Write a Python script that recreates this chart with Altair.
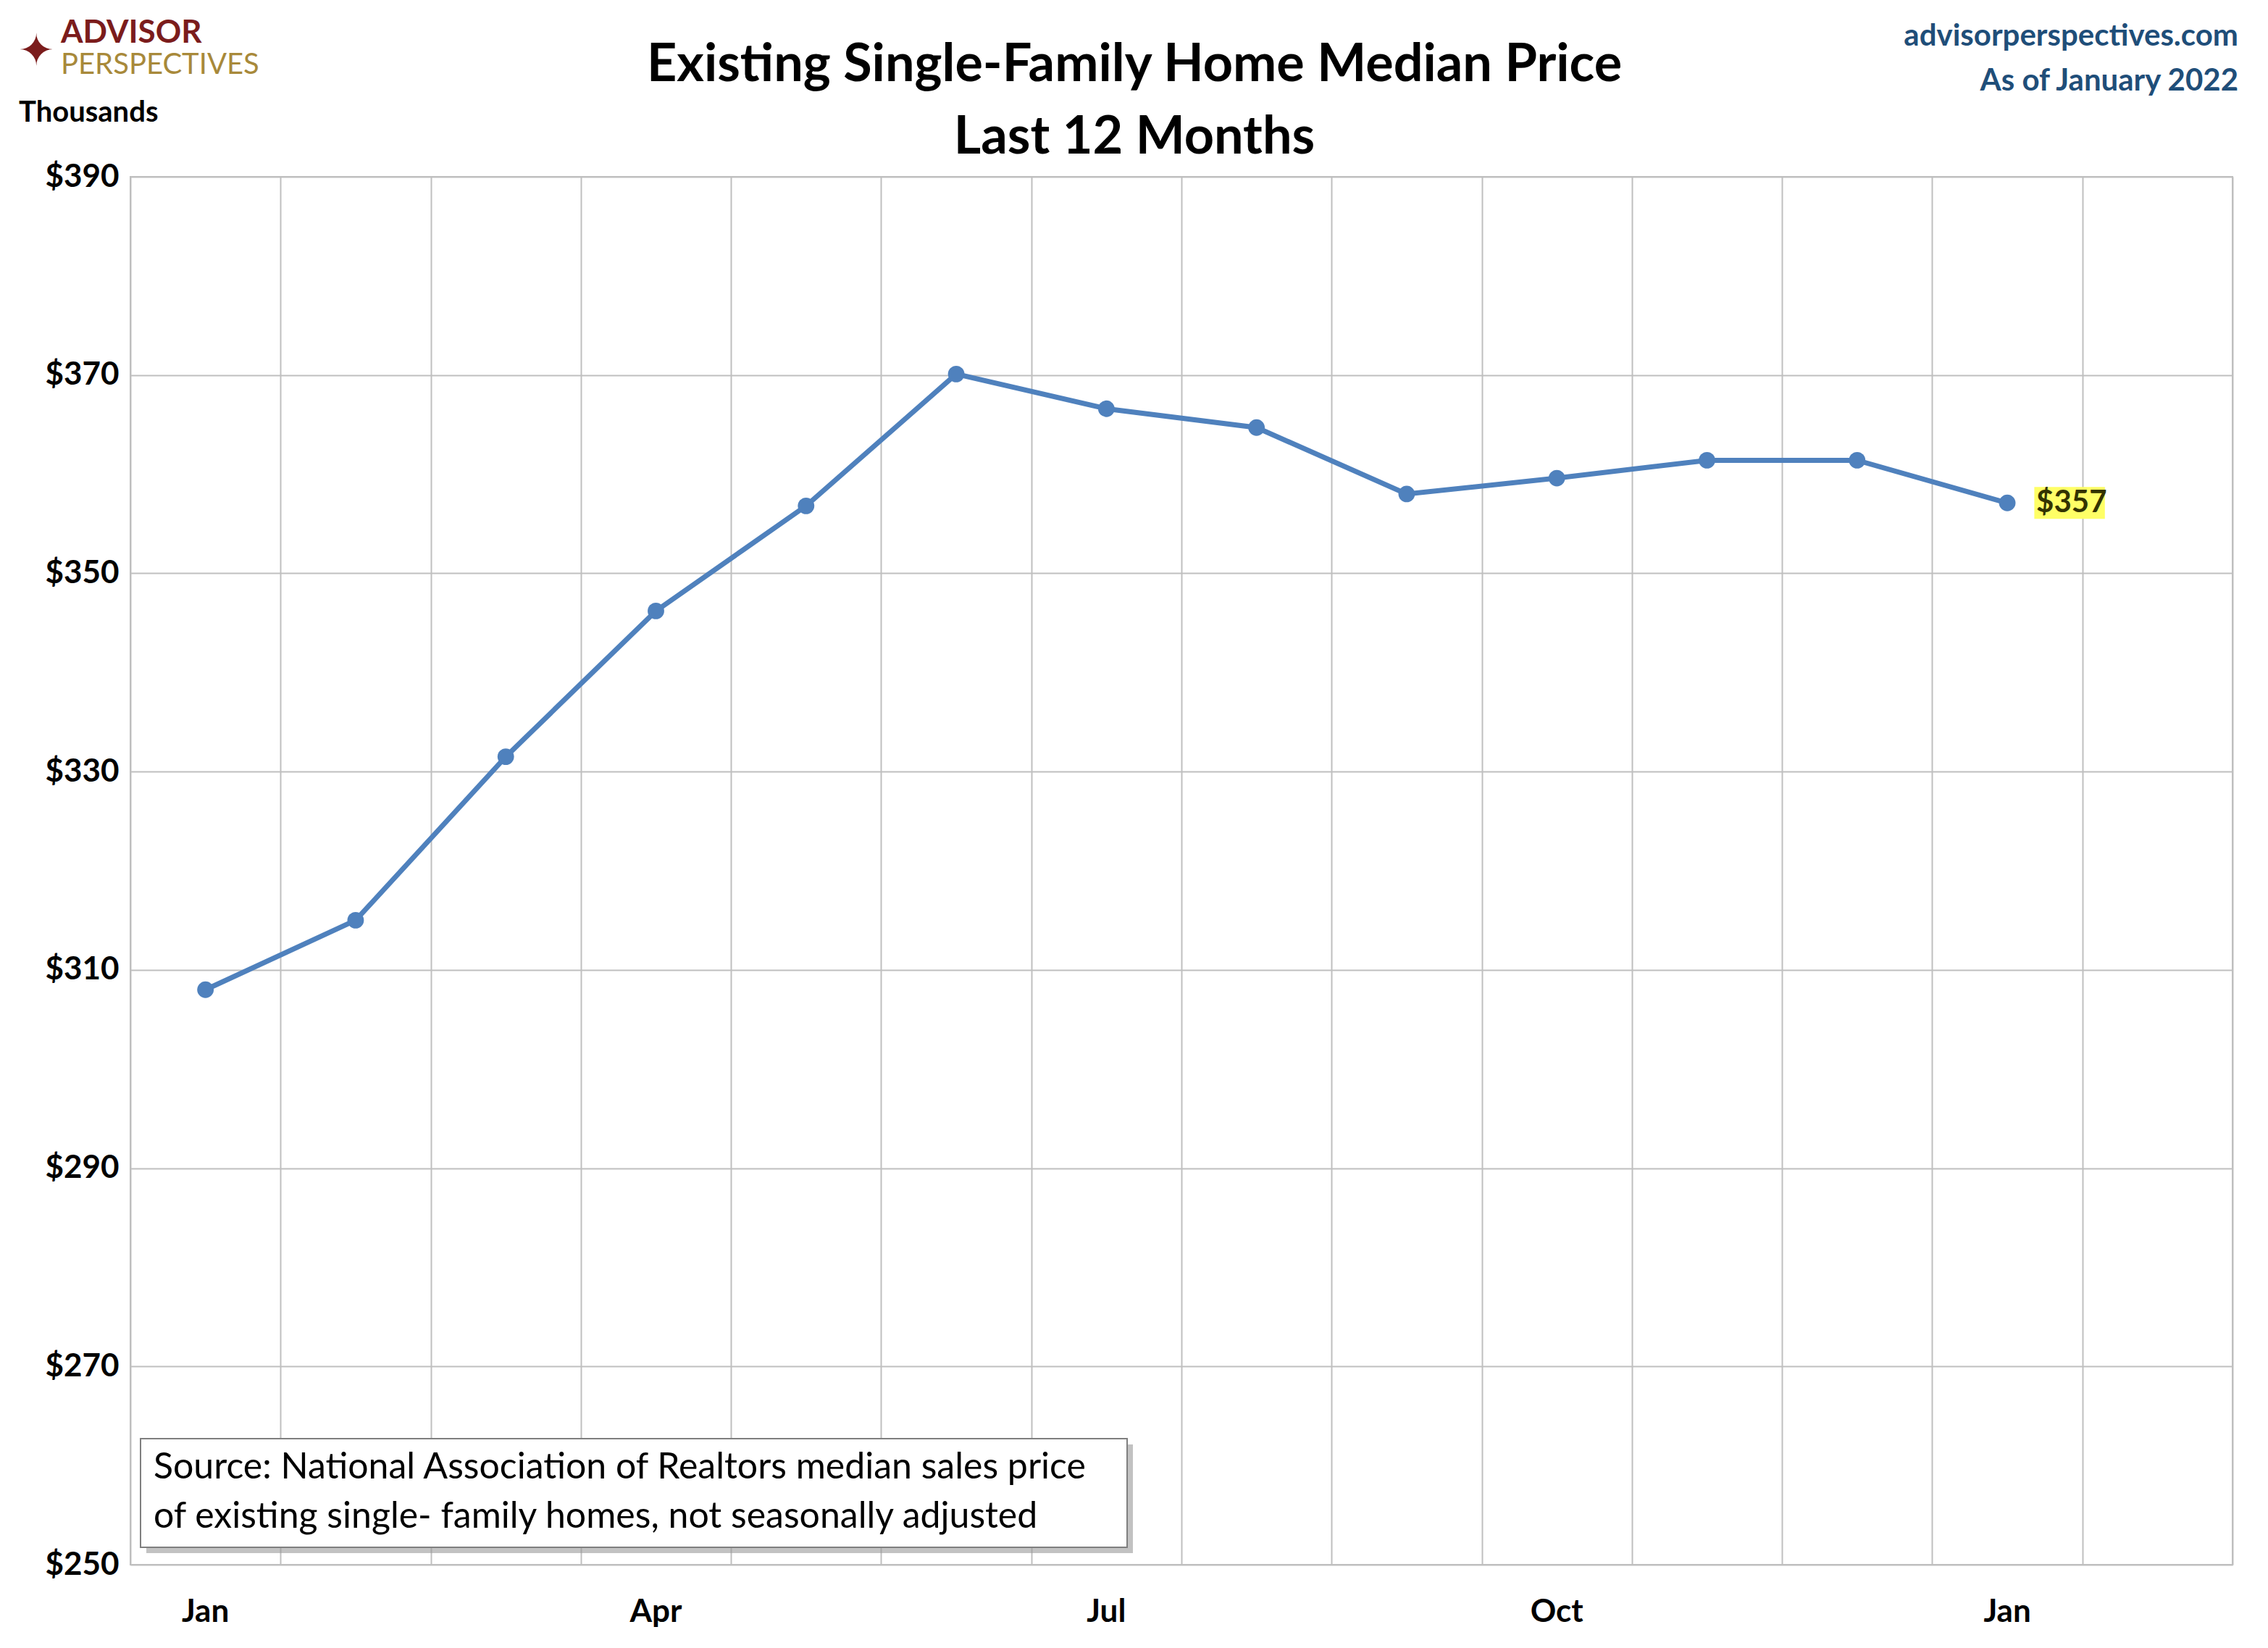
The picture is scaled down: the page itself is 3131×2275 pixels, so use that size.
import altair as alt
import pandas as pd

months = ["Jan", "Feb", "Mar", "Apr", "May", "Jun", "Jul", "Aug", "Sep", "Oct", "Nov", "Dec", "Jan "]
prices = [308.0, 315.0, 331.5, 346.2, 356.8, 370.1, 366.6, 364.7, 358.0, 359.6, 361.4, 361.4, 357.1]
tick_months = ["Jan", "Apr", "Jul", "Oct", "Jan"]
tick_pos = [0, 3, 6, 9, 12]
y_ticks = [250, 270, 290, 310, 330, 350, 370, 390]
grid_x = [i - 0.5 for i in range(15)]

W, H = 2902, 1916
FONT = "Lato"
BLUE = "#4F81BD"

df = pd.DataFrame({"i": list(range(len(months))), "month": months, "price": prices})
ticks = pd.DataFrame({"i": tick_pos, "label": tick_months})

x = alt.X("i:Q", scale=alt.Scale(domain=[-0.5, 13.5], nice=False, zero=False),
          axis=alt.Axis(values=grid_x, labels=False, ticks=False, domain=False,
                        title=None, gridColor="#BFBFBF", gridWidth=2))
y = alt.Y("price:Q", scale=alt.Scale(domain=[250, 390], nice=False, zero=False),
          axis=alt.Axis(values=y_ticks, labelExpr="'$' + datum.value", title=None,
                        labelFont=FONT, labelFontSize=44, labelFontWeight="bold",
                        labelColor="black", labelPadding=16, ticks=False, domain=False,
                        gridColor="#BFBFBF", gridWidth=2))

base = alt.Chart(df)
line = base.mark_line(color=BLUE, strokeWidth=7).encode(x=x, y=y)
pts = base.mark_circle(color=BLUE, size=520, opacity=1).encode(x="i:Q", y="price:Q")

last = df.tail(1).copy()
hl = alt.Chart(last).transform_calculate(
    x1="datum.i + 0.18", x2="datum.i + 0.65", y1="datum.price - 1.6", y2="datum.price + 1.6"
).mark_rect(color="#FFFF66").encode(x="x1:Q", x2="x2:Q", y="y1:Q", y2="y2:Q")
lbl = alt.Chart(last).transform_calculate(t="'$' + round(datum.price)").mark_text(
    font=FONT, fontSize=42, fontWeight="bold", color="#333300", align="left", dx=40
).encode(x="i:Q", y="price:Q", text="t:N")

xlab = alt.Chart(ticks).mark_text(font=FONT, fontSize=44, fontWeight="bold",
                                  color="black", baseline="middle").encode(
    x="i:Q", y=alt.value(1982), text="label:N")


def txt(s, xv, yv, size, weight="bold", color="black", align="center", font=FONT):
    return alt.Chart(pd.DataFrame({"t": [s]})).mark_text(
        font=font, fontSize=size, fontWeight=weight, color=color, align=align,
        baseline="middle"
    ).encode(x=alt.value(xv), y=alt.value(yv), text="t:N")


shadow = alt.Chart(pd.DataFrame({"a": [0]})).mark_rect(color="#9A9A9A", opacity=0.6).encode(
    x=alt.value(22), x2=alt.value(1384), y=alt.value(1750), y2=alt.value(1900))
box = alt.Chart(pd.DataFrame({"a": [0]})).mark_rect(
    color="white", stroke="#7F7F7F", strokeWidth=2).encode(
    x=alt.value(14), x2=alt.value(1376), y=alt.value(1742), y2=alt.value(1892))

annotations = [
    txt("Existing Single-Family Home Median Price", 1386, -154, 72),
    txt("Last 12 Months", 1386, -54, 72),
    txt("Thousands", -154, -88, 40, align="left"),
    txt("advisorperspectives.com", 2910, -194, 42, color="#1F4E79", align="right"),
    txt("As of January 2022", 2910, -132, 42, color="#1F4E79", align="right"),
    txt("ADVISOR", -96, -198, 44, color="#7B1C1C", align="left"),
    txt("PERSPECTIVES", -96, -154, 40, weight="normal", color="#A8893A", align="left"),
    txt("\u2726", -130, -172, 60, weight="normal", color="#7B1C1C"),
    txt("Source: National Association of Realtors median sales price", 32, 1782, 50,
        weight="normal", align="left"),
    txt("of existing single- family homes, not seasonally adjusted", 32, 1850, 50,
        weight="normal", align="left"),
]

chart = alt.layer(line, hl, pts, lbl, xlab, shadow, box, *annotations).properties(
    width=W, height=H,
    autosize=alt.AutoSizeParams(type="none"),
    padding={"left": 172, "top": 236, "right": 40, "bottom": 100},
    background="white",
).configure_view(stroke="#BFBFBF", strokeWidth=2)

chart.save("out.html", embed_options={"renderer": "svg", "actions": False})
